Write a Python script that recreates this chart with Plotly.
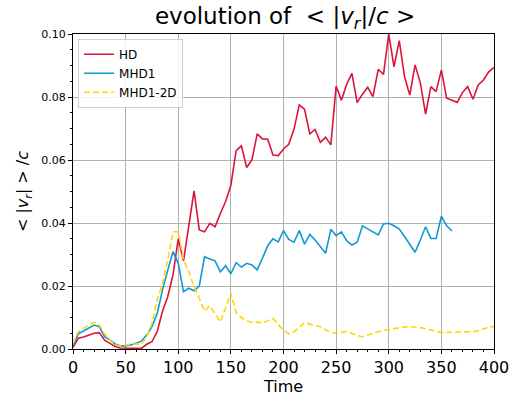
import plotly.graph_objects as go

time_hd = list(range(0, 405, 5))
hd = [0.0005, 0.0034, 0.0038, 0.0045, 0.0050, 0.0052, 0.0028, 0.0018, 0.0008, 0.0003,
      0.0002, 0.0002, 0.0002, 0.0002, 0.0015, 0.0023, 0.0055, 0.0120, 0.0166, 0.0235,
      0.0350, 0.0280, 0.0390, 0.0502, 0.0378, 0.0372, 0.0399, 0.0388, 0.0430, 0.0468,
      0.0520, 0.0630, 0.0645, 0.0576, 0.0600, 0.0683, 0.0667, 0.0666, 0.0616, 0.0614,
      0.0635, 0.0650, 0.0698, 0.0775, 0.0761, 0.0683, 0.0697, 0.0656, 0.0672, 0.0648,
      0.0835, 0.0790, 0.0840, 0.0875, 0.0782, 0.0809, 0.0831, 0.0801, 0.0888, 0.0872,
      0.1000, 0.0896, 0.0979, 0.0864, 0.0806, 0.0902, 0.0845, 0.0746, 0.0833, 0.0817,
      0.0886, 0.0796, 0.0790, 0.0783, 0.0814, 0.0833, 0.0793, 0.0838, 0.0854, 0.0880,
      0.0894]

time_mhd1 = list(range(0, 365, 5))
mhd1 = [0.0010, 0.0048, 0.0057, 0.0066, 0.0076, 0.0071, 0.0039, 0.0029, 0.0016, 0.0010,
        0.0010, 0.0013, 0.0018, 0.0025, 0.0044, 0.0071, 0.0113, 0.0187, 0.0250, 0.0309,
        0.0272, 0.0182, 0.0193, 0.0185, 0.0200, 0.0293, 0.0286, 0.0280, 0.0245, 0.0264,
        0.0239, 0.0274, 0.0260, 0.0272, 0.0267, 0.0251, 0.0288, 0.0328, 0.0350, 0.0340,
        0.0376, 0.0348, 0.0339, 0.0376, 0.0333, 0.0364, 0.0346, 0.0325, 0.0304, 0.0380,
        0.0360, 0.0372, 0.0344, 0.0330, 0.0339, 0.0391, 0.0381, 0.0370, 0.0362, 0.0397,
        0.0399, 0.0391, 0.0381, 0.0357, 0.0332, 0.0307, 0.0346, 0.0388, 0.0351, 0.0351,
        0.0422, 0.0391, 0.0375]

time_2d = list(range(0, 405, 5))
mhd1_2d = [0.0018, 0.0055, 0.0066, 0.0076, 0.0085, 0.0076, 0.0048, 0.0029, 0.0013, 0.0010,
           0.0013, 0.0015, 0.0016, 0.0015, 0.0039, 0.0082, 0.0156, 0.0208, 0.0283, 0.0372,
           0.0372, 0.0283, 0.0245, 0.0198, 0.0161, 0.0120, 0.0137, 0.0113, 0.0086, 0.0131,
           0.0177, 0.0116, 0.0100, 0.0090, 0.0084, 0.0086, 0.0081, 0.0090, 0.0097, 0.0078,
           0.0059, 0.0049, 0.0055, 0.0068, 0.0084, 0.0079, 0.0076, 0.0071, 0.0060, 0.0052,
           0.0050, 0.0052, 0.0055, 0.0050, 0.0043, 0.0039, 0.0045, 0.0050, 0.0055, 0.0059,
           0.0062, 0.0065, 0.0068, 0.0070, 0.0071, 0.0070, 0.0068, 0.0064, 0.0060, 0.0054,
           0.0052, 0.0053, 0.0053, 0.0053, 0.0054, 0.0055, 0.0055, 0.0058, 0.0065, 0.0070,
           0.0071]

x_ticks = [0, 50, 100, 150, 200, 250, 300, 350, 400]
y_ticks = [0.00, 0.02, 0.04, 0.06, 0.08, 0.10]

FONT = "DejaVu Sans"

fig = go.Figure()
fig.add_trace(go.Scatter(x=time_hd, y=hd, mode="lines", name="HD",
                         line=dict(color="#dc143c", width=1.6)))
fig.add_trace(go.Scatter(x=time_mhd1, y=mhd1, mode="lines", name="MHD1",
                         line=dict(color="#0f9ad6", width=1.6)))
fig.add_trace(go.Scatter(x=time_2d, y=mhd1_2d, mode="lines", name="MHD1-2D",
                         line=dict(color="#ffd700", width=1.6, dash="6px,3px")))

fig.update_layout(
    width=523, height=396,
    margin=dict(l=73, r=29, t=34, b=47),
    paper_bgcolor="white", plot_bgcolor="white",
    font=dict(family=FONT, color="black"),
    title=dict(text="evolution of  &lt; |<i>v<sub>r</sub></i>|/<i>c</i> &gt;",
               x=0.545, xanchor="center", y=0.98, yanchor="top",
               font=dict(size=23, family=FONT)),
    showlegend=True,
    legend=dict(x=0.012, y=0.985, xanchor="left", yanchor="top",
                bgcolor="rgba(255,255,255,0.85)", bordercolor="#d0d0d0", borderwidth=1,
                font=dict(size=12, family=FONT), tracegroupgap=0),
)
fig.update_xaxes(
    range=[0, 400], tickvals=x_ticks, ticktext=[str(v) for v in x_ticks],
    automargin=False,
    showgrid=True, gridcolor="#b0b0b0", gridwidth=1,
    showline=True, linecolor="black", linewidth=1, mirror=True,
    ticks="outside", ticklen=4, tickcolor="black",
    tickfont=dict(size=16, family=FONT),
    minor=dict(dtick=10, ticks="outside", ticklen=2, tickcolor="black", showgrid=False),
    title=dict(text="Time", font=dict(size=16, family=FONT), standoff=4),
    zeroline=False,
)
fig.update_yaxes(
    range=[0, 0.10], tickvals=y_ticks, ticktext=[f"{v:.2f}" for v in y_ticks],
    automargin=False,
    showgrid=True, gridcolor="#b0b0b0", gridwidth=1,
    showline=True, linecolor="black", linewidth=1, mirror=True,
    ticks="outside", ticklen=4, tickcolor="black",
    tickfont=dict(size=11, family=FONT),
    minor=dict(dtick=0.005, ticks="outside", ticklen=2, tickcolor="black", showgrid=False),
    title=dict(text="&lt; |<i>v<sub>r</sub></i>| &gt; /<i>c</i>", font=dict(size=16, family=FONT), standoff=8),
    zeroline=False,
)

fig.write_html("out.html")
